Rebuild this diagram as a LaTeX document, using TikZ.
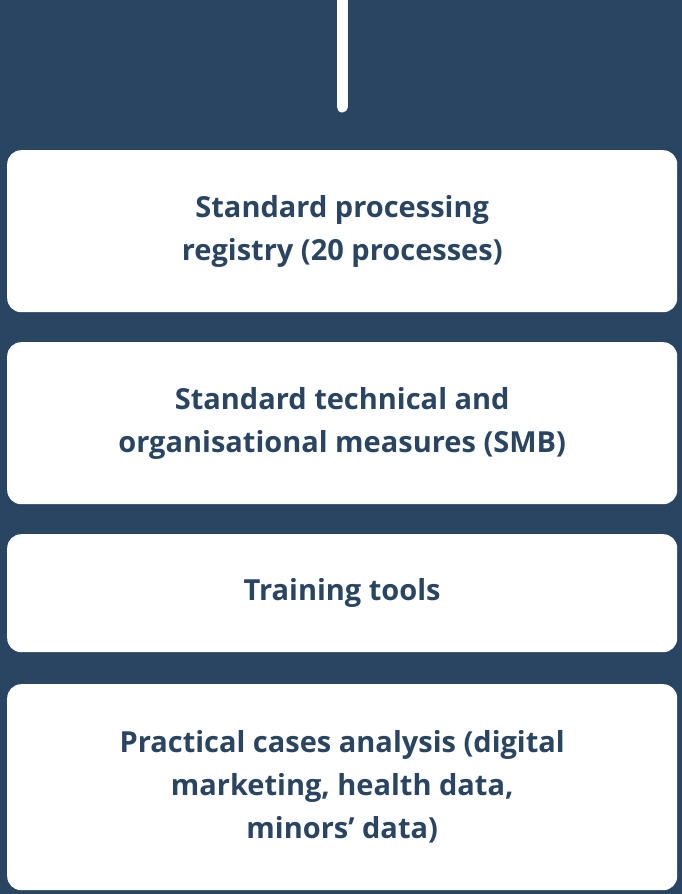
\documentclass[tikz,border=0pt]{standalone}
\usepackage{fontspec}
\setmainfont{Open Sans}
\definecolor{navy}{HTML}{2A4562}
\begin{document}
\begin{tikzpicture}[x=1pt,y=-1pt,
  card/.style={draw=none,fill=white,rounded corners=14pt,minimum width=670pt,anchor=north west,text=navy,font=\bfseries\fontsize{29}{43}\selectfont,align=center,inner sep=0pt}]
\fill[navy] (0,0) rectangle (682,894);
\useasboundingbox (0,0) rectangle (682,894);
\coordinate (top) at (342,-10);
\coordinate (bot) at (342,107);
\draw[white,line width=11pt,line cap=round] (top) -- (bot);
\node[card,minimum height=162pt] (b1) at (7,150) {Standard processing\\registry (20 processes)};
\node[card,minimum height=162pt] (b2) at (7,342) {Standard technical and\\organisational measures (SMB)};
\node[card,minimum height=118pt] (b3) at (7,534) {Training tools};
\node[card,minimum height=206pt] (b4) at (7,684) {Practical cases analysis (digital\\marketing, health data,\\minors’ data)};
\end{tikzpicture}
\end{document}
